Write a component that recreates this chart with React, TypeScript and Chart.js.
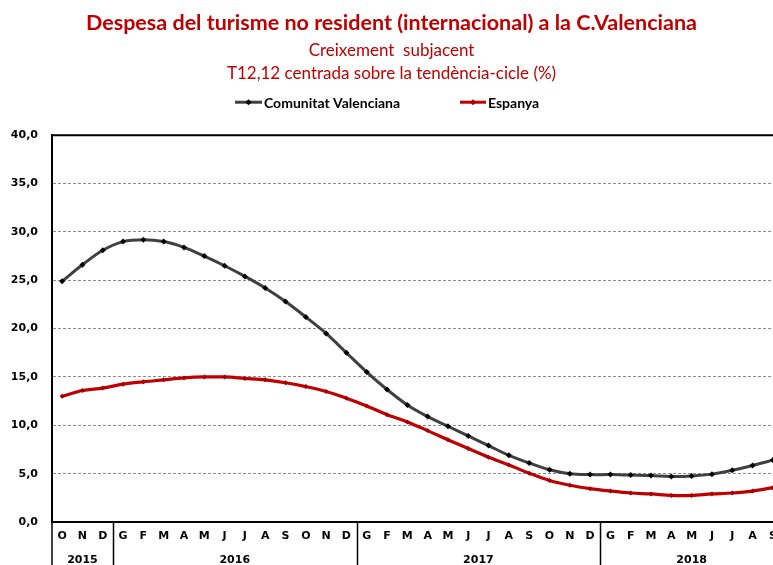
import React, { useEffect, useRef } from 'react';
import { Chart, registerables } from 'chart.js';

Chart.register(...registerables);

const months = ['O','N','D','G','F','M','A','M','J','J','A','S','O','N','D','G','F','M','A','M','J','J','A','S','O','N','D','G','F','M','A','M','J','J','A','S'];
const yearLabels = ['2015', '2016', '2017', '2018'];
const yearSpans = [3, 12, 12, 9];
const comunitatValenciana = [24.9,26.6,28.1,29.0,29.2,29.0,28.4,27.5,26.5,25.4,24.2,22.8,21.2,19.5,17.5,15.5,13.7,12.1,10.9,9.9,8.9,7.9,6.9,6.1,5.4,5.0,4.9,4.9,4.85,4.8,4.7,4.75,4.95,5.35,5.85,6.4];
const espanya = [13.0,13.6,13.85,14.25,14.5,14.7,14.9,15.0,15.0,14.85,14.7,14.4,14.0,13.5,12.8,12.0,11.1,10.35,9.45,8.5,7.6,6.7,5.9,5.05,4.3,3.8,3.45,3.2,3.0,2.9,2.75,2.75,2.9,3.0,3.2,3.55];
const seriesNames = ['Comunitat Valenciana', 'Espanya'];
const titleText = 'Despesa del turisme no resident (internacional) a la C.Valenciana';
const subtitleLines = ['Creixement  subjacent', 'T12,12 centrada sobre la tendència-cicle (%)'];

const RED = '#C00000';
const DARK = '#404040';

const framePlugin = {
  id: 'frameYears',
  afterDraw(chart: any) {
    const { ctx, chartArea: a, scales } = chart;
    const x = scales.x;
    ctx.save();
    ctx.strokeStyle = '#000';
    ctx.lineWidth = 2;
    ctx.beginPath();
    ctx.moveTo(a.left, a.top);
    ctx.lineTo(a.right, a.top);
    ctx.lineTo(a.right, a.bottom);
    ctx.stroke();

    const w = x.getPixelForValue(1) - x.getPixelForValue(0);
    ctx.lineWidth = 1.5;
    ctx.font = 'bold 11px "DejaVu Sans"';
    ctx.fillStyle = '#000';
    ctx.textAlign = 'center';
    ctx.textBaseline = 'middle';
    let i = 0;
    const startX = x.getPixelForValue(0) - w / 2;
    ctx.beginPath();
    ctx.moveTo(startX, a.bottom);
    ctx.lineTo(startX, chart.height);
    ctx.stroke();
    yearLabels.forEach((lab, k) => {
      const s = x.getPixelForValue(i) - w / 2;
      const e = x.getPixelForValue(i + yearSpans[k] - 1) + w / 2;
      ctx.fillText(lab, (s + e) / 2, a.bottom + 38);
      ctx.beginPath();
      ctx.moveTo(Math.round(e) + 0.5, a.bottom);
      ctx.lineTo(Math.round(e) + 0.5, chart.height);
      ctx.stroke();
      i += yearSpans[k];
    });

    // legend
    const ly = a.top - 33;
    const items = [
      { x0: 235, x1: 262, color: DARK, marker: '#000', text: seriesNames[0] },
      { x0: 460, x1: 486, color: RED, marker: '#A00000', text: seriesNames[1] },
    ];
    ctx.font = 'bold 14px Lato';
    ctx.textAlign = 'left';
    items.forEach((it) => {
      ctx.strokeStyle = it.color;
      ctx.lineWidth = 3;
      ctx.beginPath();
      ctx.moveTo(it.x0, ly);
      ctx.lineTo(it.x1, ly);
      ctx.stroke();
      const cx = (it.x0 + it.x1) / 2;
      ctx.fillStyle = it.marker;
      ctx.beginPath();
      ctx.moveTo(cx, ly - 3);
      ctx.lineTo(cx + 3, ly);
      ctx.lineTo(cx, ly + 3);
      ctx.lineTo(cx - 3, ly);
      ctx.closePath();
      ctx.fill();
      ctx.fillStyle = '#000';
      ctx.fillText(it.text, it.x1 + 2, ly + 1);
    });
    ctx.restore();
  },
};

export default function App() {
  const ref = useRef<HTMLCanvasElement>(null);
  useEffect(() => {
    const canvas = ref.current!;
    const chart = new Chart(canvas, {
      type: 'line',
      data: {
        labels: months,
        datasets: [
          {
            label: seriesNames[0],
            data: comunitatValenciana,
            borderColor: DARK,
            borderWidth: 3,
            pointStyle: 'rectRot',
            pointRadius: 3,
            pointBackgroundColor: '#000',
            pointBorderColor: '#000',
            pointBorderWidth: 0,
            tension: 0.35,
          },
          {
            label: seriesNames[1],
            data: espanya,
            borderColor: RED,
            borderWidth: 3.2,
            pointStyle: 'rectRot',
            pointRadius: 2.5,
            pointBackgroundColor: '#A00000',
            pointBorderColor: '#A00000',
            pointBorderWidth: 0,
            tension: 0.35,
          },
        ],
      },
      options: {
        responsive: false,
        animation: false,
        devicePixelRatio: 1,
        layout: { padding: { left: 0, right: 23, top: 0, bottom: 0 } },
        plugins: {
          legend: { display: false },
          tooltip: { enabled: false },
          title: {
            display: true,
            text: titleText,
            color: RED,
            font: { family: 'Lato', size: 21.5, weight: 'bold', lineHeight: 1.2 },
            padding: { top: 10, bottom: 2 },
          },
          subtitle: {
            display: true,
            text: subtitleLines,
            color: RED,
            font: { family: 'Lato', size: 17, weight: 'normal', lineHeight: 1.365 },
            padding: { top: 1, bottom: 50 },
          },
        },
        scales: {
          x: {
            offset: true,
            grid: { display: false, drawTicks: false, offset: true },
            border: { display: true, color: '#000', width: 2 },
            ticks: {
              autoSkip: false,
              maxRotation: 0,
              color: '#000',
              padding: 8,
              font: { family: 'DejaVu Sans', size: 11, weight: 'bold' },
            },
            afterFit: (s: any) => { s.height = 43; },
          },
          y: {
            min: 0,
            max: 40,
            grid: {
              drawTicks: false,
              color: (c: any) => (c.tick && (c.tick.value === 0 || c.tick.value === 40) ? 'rgba(0,0,0,0)' : '#8c8c8c'),
              lineWidth: 1,
            },
            border: { display: true, color: '#000', width: 2, dash: [3, 2] },
            ticks: {
              stepSize: 5,
              color: '#000',
              padding: 14,
              font: { family: 'DejaVu Sans', size: 11, weight: 'bold' },
              callback: (v: any) => Number(v).toFixed(1).replace('.', ','),
            },
            afterFit: (s: any) => { s.width = 52; },
          },
        },
      },
      plugins: [framePlugin],
    });
    return () => chart.destroy();
  }, []);
  return (
    <div style={{ position: 'fixed', left: 0, top: 0, width: 773, height: 565, overflow: 'hidden', background: '#fff' }}>
      <canvas ref={ref} width={806} height={565} style={{ width: 806, height: 565, display: 'block' }} />
    </div>
  );
}
